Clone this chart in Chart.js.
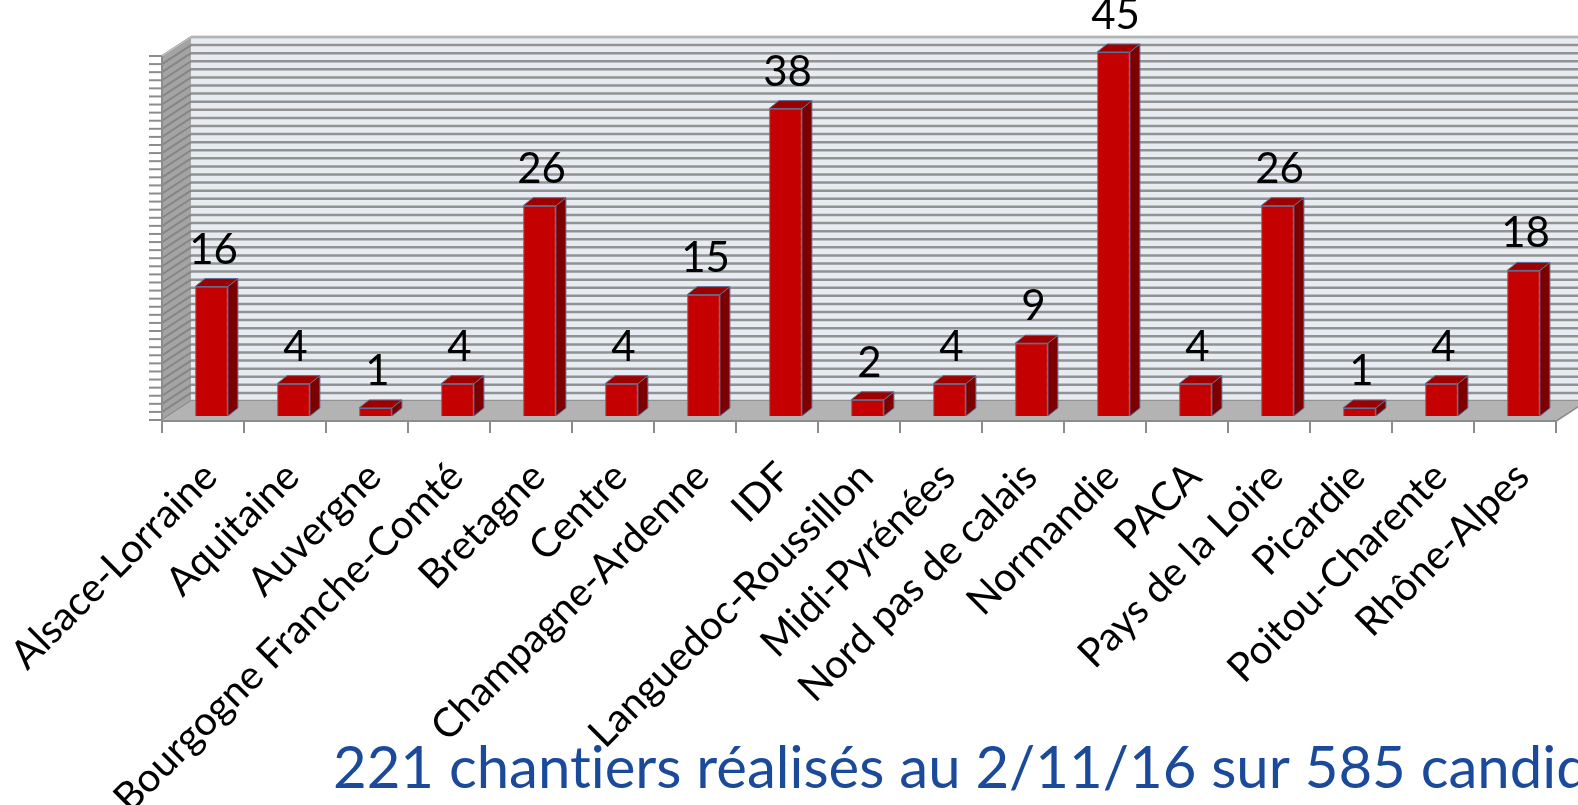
<!DOCTYPE html>
<html>
<head>
<meta charset="utf-8">
<script src="https://cdn.jsdelivr.net/npm/chart.js@4.4.1/dist/chart.umd.min.js"></script>
<style>
    body { margin: 0; background: #ffffff; overflow: hidden; }
    #wrap { position: relative; width: 1578px; height: 805px; }
</style>
</head>
<body>
<div id="wrap"><canvas id="chantiers-chart"></canvas></div>
<script>
// Chart data
const regions = ["Alsace-Lorraine", "Aquitaine", "Auvergne", "Bourgogne Franche-Comté", "Bretagne",
    "Centre", "Champagne-Ardenne", "IDF", "Languedoc-Roussillon", "Midi-Pyrénées",
    "Nord pas de calais", "Normandie", "PACA", "Pays de la Loire", "Picardie",
    "Poitou-Charente", "Rhône-Alpes"];
const chantiers = [16, 4, 1, 4, 26, 4, 15, 38, 2, 4, 9, 45, 4, 26, 1, 4, 18];
const yMax = 45;
const subtitle = "221 chantiers réalisés au 2/11/16 sur 585 candidatures";

const FONT = "Lato, 'Open Sans', sans-serif";

// 3D look: depth of the walls and of the bars
const wallDx = 29, wallDy = -19, wallDrop = 4;
const barDx = 10, barDy = -8;
const frontShift = -8.5; // front axis sits a bit left of the bars

// Pick a font size so a text fills a given width
function fitFont(ctx, text, width) {
    ctx.font = `40px ${FONT}`;
    const w = ctx.measureText(text).width;
    return 40 * width / w;
}

const box3d = {
    id: 'box3d',
    beforeDatasetsDraw(chart) {
        const ctx = chart.ctx;
        const y = chart.scales.y;
        const x = chart.scales.x;
        const area = chart.chartArea;
        const catW = (area.right - area.left) / regions.length;
        const left = x.getPixelForValue(0) - catW / 2 + frontShift;
        const right = x.getPixelForValue(regions.length - 1) + catW / 2 + frontShift;
        const y0 = y.getPixelForValue(0) + wallDrop;
        const yTop = y.getPixelForValue(yMax) + wallDrop;

        ctx.save();
        // back wall
        ctx.fillStyle = '#e7ebf2';
        ctx.fillRect(left + wallDx, yTop + wallDy, right - left + 40, y0 - yTop);
        ctx.strokeStyle = '#929292';
        ctx.lineWidth = 2.5;
        for (let v = 0; v <= yMax; v++) {
            const py = y.getPixelForValue(v) + wallDrop + wallDy;
            ctx.beginPath();
            ctx.moveTo(left + wallDx, py);
            ctx.lineTo(chart.width + 5, py);
            ctx.stroke();
        }
        // left wall
        ctx.fillStyle = '#a4a4a4';
        ctx.beginPath();
        ctx.moveTo(left, yTop);
        ctx.lineTo(left + wallDx, yTop + wallDy);
        ctx.lineTo(left + wallDx, y0 + wallDy);
        ctx.lineTo(left, y0);
        ctx.closePath();
        ctx.fill();
        ctx.lineWidth = 2;
        for (let v = 0; v <= yMax; v++) {
            const py = y.getPixelForValue(v) + wallDrop;
            ctx.strokeStyle = '#868686';
            ctx.beginPath();
            ctx.moveTo(left, py);
            ctx.lineTo(left + wallDx, py + wallDy);
            ctx.stroke();
            // tick on the front edge
            ctx.strokeStyle = '#8c8c8c';
            ctx.beginPath();
            ctx.moveTo(left - 13, py);
            ctx.lineTo(left, py);
            ctx.stroke();
        }
        ctx.strokeStyle = '#bdbdbd';
        ctx.lineWidth = 1.5;
        ctx.beginPath();
        ctx.moveTo(left, yTop);
        ctx.lineTo(left + wallDx, yTop + wallDy);
        ctx.lineTo(chart.width + 5, yTop + wallDy);
        ctx.stroke();

        // floor
        ctx.fillStyle = '#b3b3b3';
        ctx.beginPath();
        ctx.moveTo(left, y0);
        ctx.lineTo(left + wallDx, y0 + wallDy);
        ctx.lineTo(right + wallDx, y0 + wallDy);
        ctx.lineTo(right, y0);
        ctx.closePath();
        ctx.fill();

        // axes
        ctx.strokeStyle = '#8c8c8c';
        ctx.lineWidth = 2;
        ctx.beginPath();
        ctx.moveTo(left, yTop);
        ctx.lineTo(left, y0 + 1);
        ctx.lineTo(right, y0 + 1);
        ctx.lineTo(right + wallDx, y0 + 1 + wallDy);
        ctx.stroke();
        for (let i = 0; i <= regions.length; i++) {
            const px = left + i * catW;
            ctx.beginPath();
            ctx.moveTo(px, y0 + 1);
            ctx.lineTo(px, y0 + 13);
            ctx.stroke();
        }
        ctx.restore();
    },
    afterDatasetsDraw(chart) {
        const ctx = chart.ctx;
        const meta = chart.getDatasetMeta(0);
        ctx.save();
        // no "ti" ligatures, as in the original
        ctx.textRendering = 'optimizeSpeed';
        ctx.lineWidth = 1;
        ctx.strokeStyle = '#5b6f96';
        meta.data.forEach((bar, i) => {
            const half = bar.width / 2;
            const xl = bar.x - half, xr = bar.x + half;
            // side face
            ctx.fillStyle = '#7d0000';
            ctx.beginPath();
            ctx.moveTo(xr, bar.y);
            ctx.lineTo(xr + barDx, bar.y + barDy);
            ctx.lineTo(xr + barDx, bar.base + barDy);
            ctx.lineTo(xr, bar.base);
            ctx.closePath();
            ctx.fill();
            ctx.stroke();
            // top face
            ctx.fillStyle = '#9e0000';
            ctx.beginPath();
            ctx.moveTo(xl, bar.y);
            ctx.lineTo(xl + barDx, bar.y + barDy);
            ctx.lineTo(xr + barDx, bar.y + barDy);
            ctx.lineTo(xr, bar.y);
            ctx.closePath();
            ctx.fill();
            ctx.stroke();

            // value label
            ctx.fillStyle = '#000000';
            ctx.font = `42px ${FONT}`;
            ctx.textAlign = 'center';
            ctx.textBaseline = 'alphabetic';
            ctx.fillText(String(chantiers[i]), bar.x + 2, bar.y - 23);
        });

        // category labels, rotated
        const labelSize = fitFont(ctx, "Alsace-Lorraine", 272);
        ctx.font = `${labelSize}px ${FONT}`;
        ctx.fillStyle = '#000000';
        ctx.textAlign = 'right';
        ctx.textBaseline = 'alphabetic';
        meta.data.forEach((bar, i) => {
            ctx.save();
            ctx.translate(bar.x + 8, 479);
            ctx.rotate(-Math.PI / 4);
            ctx.fillText(regions[i], 0, 0);
            ctx.restore();
        });

        // subtitle under the chart
        const subSize = fitFont(ctx, "221 chantiers réalisés au 2/11/16 sur ", 972);
        ctx.font = `${subSize}px ${FONT}`;
        ctx.fillStyle = '#1b4a9b';
        ctx.textAlign = 'left';
        ctx.fillText(subtitle, 333, 788);
        ctx.restore();
    }
};

new Chart(document.getElementById('chantiers-chart'), {
    type: 'bar',
    data: {
        labels: regions,
        datasets: [{
            data: chantiers,
            backgroundColor: '#c40000',
            borderColor: '#5b6f96',
            borderWidth: 1,
            barPercentage: 0.4,
            categoryPercentage: 1.0
        }]
    },
    options: {
        responsive: true,
        maintainAspectRatio: false,
        animation: false,
        layout: { padding: { left: 170.5, right: 13.5, top: 52, bottom: 389 } },
        plugins: {
            legend: { display: false },
            tooltip: { enabled: false }
        },
        scales: {
            x: { display: false },
            y: { display: false, min: 0, max: yMax }
        }
    },
    plugins: [box3d]
});
</script>
</body>
</html>
